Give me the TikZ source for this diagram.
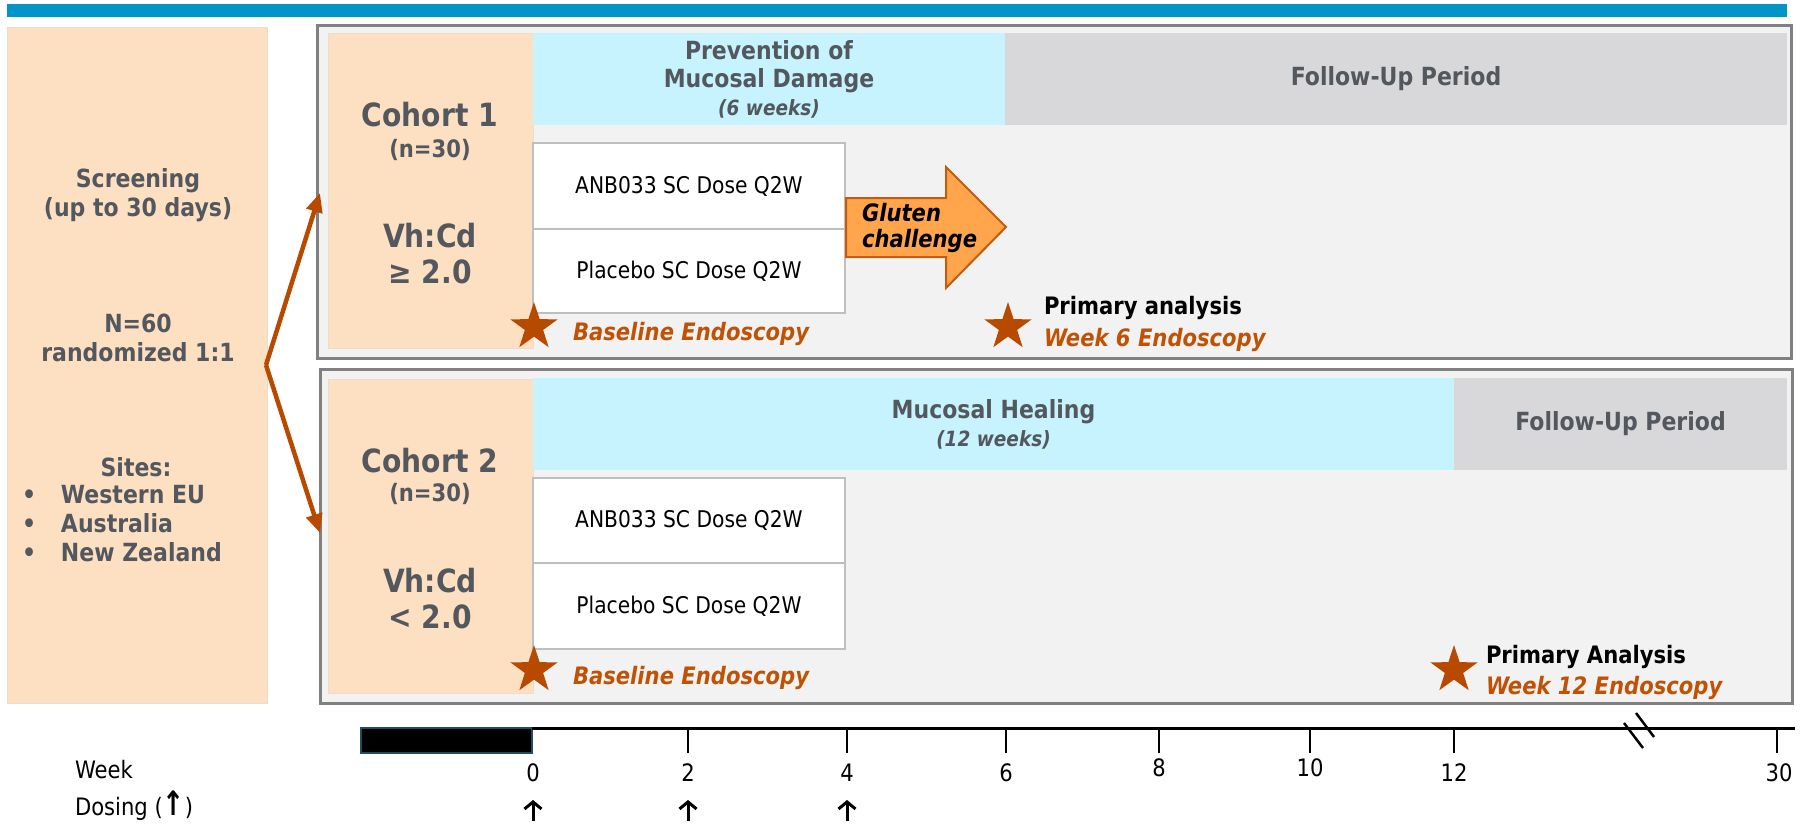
\documentclass[tikz,border=0pt]{standalone}
\usepackage{fontspec}
\usepackage{graphicx}
\setmainfont[FakeStretch=0.88]{DejaVu Sans}
\usetikzlibrary{positioning,shapes.geometric,arrows.meta}

\definecolor{barblue}{HTML}{0094C8}
\definecolor{peach}{HTML}{FDE0C2}
\definecolor{peachline}{HTML}{EEDCCB}
\definecolor{phasecyan}{HTML}{C6F3FD}
\definecolor{fugrey}{HTML}{D8D8DA}
\definecolor{panelgrey}{HTML}{F2F2F2}
\definecolor{panelline}{HTML}{808080}
\definecolor{boxline}{HTML}{BFBFBF}
\definecolor{txtgrey}{HTML}{53575E}
\definecolor{rust}{HTML}{B84A00}
\definecolor{rusttxt}{HTML}{C05206}
\definecolor{glutenfill}{HTML}{FFA64D}
\definecolor{glutenline}{HTML}{C55A11}
\definecolor{preline}{HTML}{1F4E5F}

\newcommand{\fsz}[2]{\fontsize{#1}{#2}\selectfont}

\begin{document}
\begin{tikzpicture}[x=1pt,y=-1pt,
    every node/.style={inner sep=0pt,outer sep=0pt},
    panel/.style={draw=panelline,line width=3pt,fill=panelgrey,anchor=north west},
    cohortcol/.style={draw=peachline,line width=1pt,fill=peach,anchor=north west},
    phase/.style={fill=phasecyan,anchor=north west,text=txtgrey,align=center,font=\bfseries\fsz{25}{28}},
    followup/.style={fill=fugrey,anchor=north west,text=txtgrey,font=\bfseries\fsz{25}{28}},
    dosebox/.style={draw=boxline,line width=2pt,fill=white,anchor=north west,minimum width=312pt,font=\fsz{23}{26}},
    greytxt/.style={text=txtgrey,align=center,font=\bfseries\fsz{25}{29}},
    bigtxt/.style={text=txtgrey,align=center,font=\bfseries\fsz{32}{36}},
    endo/.style={text=rusttxt,anchor=west,font=\bfseries\itshape\fsz{24}{26}},
    prim/.style={anchor=west,font=\bfseries\fsz{24}{26}},
    star5/.style={star,star points=5,star point ratio=2.6,fill=rust,minimum size=50pt},
    splitarrow/.style={draw=rust,line width=4.5pt,-{Triangle[length=19pt,width=16pt]}},
    glutenarrow/.style={draw=glutenline,line width=2pt,fill=glutenfill,line join=miter},
    axislbl/.style={anchor=west,font=\fsz{24}{26}},
    doseup/.style={line width=3pt,-{Straight Barb[length=7pt,width=17pt]}},
    wktick/.style={line width=1.5pt},
    brk/.style={line width=2.5pt}
  ]
\useasboundingbox (0,0) rectangle (1810,825);

% top bar and screening column
\fill[barblue] (7,4) rectangle (1787,17);
\node[cohortcol,minimum width=260pt,minimum height=676pt] (screen) at (7,27) {};
\node[greytxt] (scr) at (138,195) {Screening\\(up to 30 days)};
\node[greytxt] (rand) at (138,338) {N=60\\randomized 1:1};
\node[greytxt] (sites) at (136,467) {Sites:};
\node[greytxt,align=left,anchor=west] (sitelist) at (22,524)
  {\makebox[39pt][l]{•}Western EU\\\makebox[39pt][l]{•}Australia\\\makebox[39pt][l]{•}New Zealand};

% cohort 1
\node[panel,minimum width=1474pt,minimum height=333pt] (pan1) at (317,25) {};
\node[cohortcol,minimum width=205pt,minimum height=315pt] (coh1) at (328,33) {};
\node[phase,minimum width=472pt,minimum height=92pt] (prev1) at (533,33)
  {Prevention of\\Mucosal Damage\\{\fsz{21}{28}\itshape (6 weeks)}};
\node[followup,minimum width=782pt,minimum height=92pt] (fu1) [right=0pt of prev1] {Follow-Up Period};
\node[dosebox,minimum height=86pt] (anb1) at (533,143) {ANB033 SC Dose Q2W};
\node[dosebox,minimum height=84pt,anchor=north] (pbo1) [below=0pt of anb1] {Placebo SC Dose Q2W};
\node[bigtxt] (c1name) at (430,115) {Cohort 1};
\node[greytxt,font=\bfseries\fsz{24}{28}] (c1n) at (430,150) {(n=30)};
\node[bigtxt] (c1vh) at (430,254) {Vh:Cd\\≥ 2.0};
\draw[glutenarrow] (846,198) -- (946,198) -- (946,167) -- (1006,227) -- (946,288) -- (946,257) -- (846,257) -- cycle;
\node[anchor=west,align=left,font=\bfseries\itshape\fsz{24}{26}] (glu) at (862,228) {Gluten\\challenge};
\node[star5] (bs1) at (534,327) {};
\node[endo] (bt1) at (573,334) {Baseline Endoscopy};
\node[star5] (ws6) at (1008,327) {};
\node[prim] (pa6) at (1044,308) {Primary analysis};
\node[endo] (wt6) at (1044,340) {Week 6 Endoscopy};

% cohort 2
\node[panel,minimum width=1472pt,minimum height=334pt] (pan2) at (320,369) {};
\node[cohortcol,minimum width=205pt,minimum height=314pt] (coh2) at (328,379) {};
\node[phase,minimum width=921pt,minimum height=92pt] (heal2) at (533,378)
  {Mucosal Healing\\{\fsz{21}{25}\itshape (12 weeks)}};
\node[followup,minimum width=333pt,minimum height=92pt] (fu2) [right=0pt of heal2] {Follow-Up Period};
\node[dosebox,minimum height=85pt] (anb2) at (533,478) {ANB033 SC Dose Q2W};
\node[dosebox,minimum height=86pt,anchor=north] (pbo2) [below=0pt of anb2] {Placebo SC Dose Q2W};
\node[bigtxt] (c2name) at (430,461) {Cohort 2};
\node[greytxt,font=\bfseries\fsz{24}{28}] (c2n) at (430,494) {(n=30)};
\node[bigtxt] (c2vh) at (430,599) {Vh:Cd\\< 2.0};
\node[star5] (bs2) at (534,670) {};
\node[endo] (bt2) at (573,678) {Baseline Endoscopy};
\node[star5] (ws12) at (1454,670) {};
\node[prim] (pa12) at (1486,657) {Primary Analysis};
\node[endo] (wt12) at (1486,688) {Week 12 Endoscopy};

% randomisation
\coordinate (split) at (266,365);
\coordinate (in1) at (320,193);
\coordinate (in2) at (320,533);
\path (split) edge[splitarrow] (in1) edge[splitarrow] (in2);

% timeline
\node[fill=black,draw=preline,line width=1.5pt,anchor=north west,minimum width=171pt,minimum height=25pt] (pre) at (361,728) {};
\coordinate (w0) at (532,728);
\coordinate (wend) at (1795,728);
\draw[line width=3pt] (w0) -- (wend);
\foreach \xx in {688,847,1006,1159,1310,1454,1777}
  \draw[wktick] (\xx,729) -- (\xx,753);
\draw[brk] (1624,723) -- (1643,748);
\draw[brk] (1636,713) -- (1654,737);
\foreach \wk/\xx/\yy in {0/533/773,2/688/773,4/847/773,6/1006/773,8/1159/768,10/1310/768,12/1454/773,30/1779/773}
  \node[font=\fsz{24}{26}] (wk\wk) at (\xx,\yy) {\wk};
\node[axislbl] (wklbl) at (75,770) {Week};
\node[axislbl] (doslbl) at (75,806) {Dosing (\scalebox{1.25}[1.4]{\textbf{↑}})};
\foreach \xx in {533,688,847} {
  \coordinate (dlo\xx) at (\xx,821);
  \coordinate (dhi\xx) at (\xx,800);
  \draw[doseup] (dlo\xx) -- (dhi\xx);
}
\end{tikzpicture}
\end{document}
